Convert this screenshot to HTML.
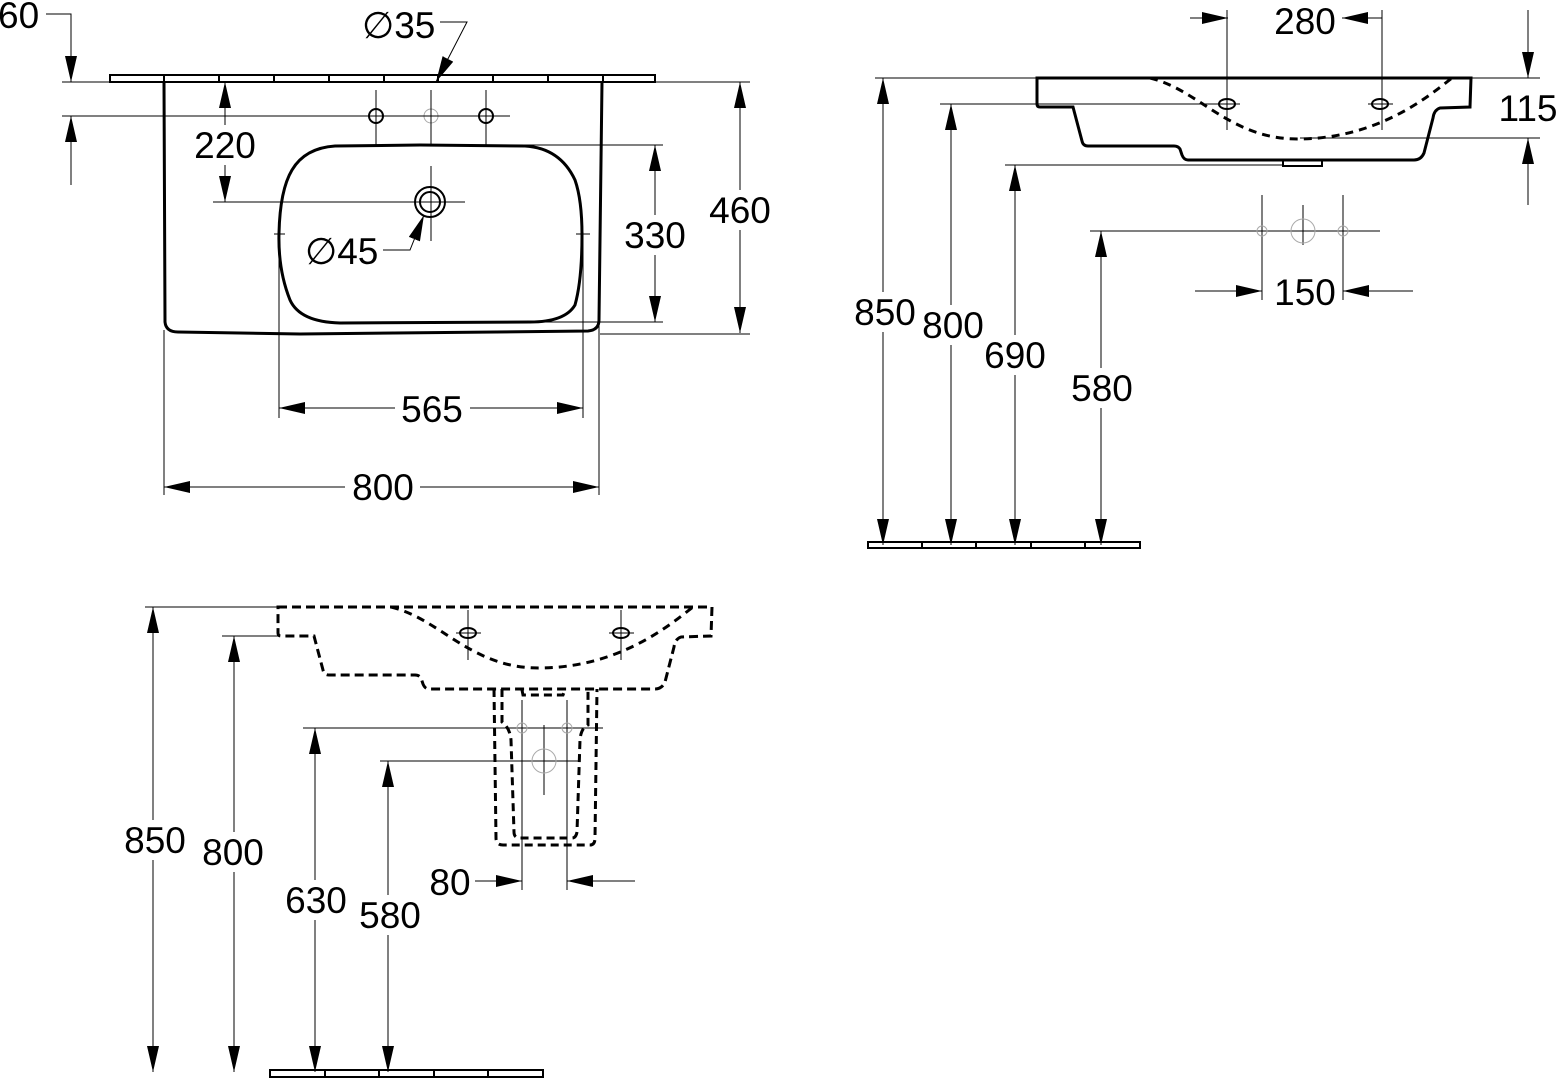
<!DOCTYPE html>
<html><head><meta charset="utf-8"><style>
html,body{margin:0;padding:0;background:#fff;width:1558px;height:1080px;overflow:hidden}
svg text{font-family:"Liberation Sans",sans-serif;font-size:37px;fill:#000}
</style></head><body>
<svg width="1558" height="1080" viewBox="0 0 1558 1080" xmlns="http://www.w3.org/2000/svg">
<defs>
<marker id="ar" viewBox="0 0 26 12" refX="26" refY="6" markerWidth="26" markerHeight="12" markerUnits="userSpaceOnUse" orient="auto-start-reverse"><path d="M26,6 L0,0 L0,12Z"/></marker>
<g id="basin">
<path d="M1037,78 L1471,78 L1470,107 L1440,108 Q1434,110 1433,118 L1424,153 Q1421,160 1414,160 L1188,160 Q1184,160 1182,155 L1180,149 Q1178,146 1174,146 L1088,146 Q1083,146 1082,141 L1073,107 L1040,107 Q1037,107 1037,104Z" fill="none"/>
<path d="M1150,78 C1200,90 1230,140 1300,139 C1380,138 1430,95 1452,78" fill="none" stroke-dasharray="8,6"/>
</g>
</defs>

<!-- ============ TOP LEFT VIEW ============ -->
<g stroke="#000" stroke-width="1" fill="none">
<rect x="110" y="75" width="545" height="7" stroke-width="2"/>
<g stroke-width="2"><path d="M164,76v5M219,76v5M274,76v5M329,76v5M384,76v5M438,76v5M493,76v5M548,76v5M603,76v5"/></g>
<path d="M164,82 L165,322 Q166,332 178,332 L300,334 L588,331 Q599,330 599,320 L602,82" stroke-width="3"/>
<path d="M335,146 L420,145 L525,146 Q560,148 575,180 Q582,200 582,235 Q582,280 575,305 Q565,322 530,322 L340,323 Q300,322 290,300 Q278,270 279,233 Q280,190 292,170 Q305,148 335,146Z" stroke-width="3"/>
<circle cx="376" cy="116" r="7" stroke-width="2"/><circle cx="486" cy="116" r="7" stroke-width="2"/>
<circle cx="431" cy="116" r="7" stroke="#aaa"/>
<path d="M376,90v55M486,90v55M431,90v55M431,166v75"/>
<circle cx="430" cy="202" r="15" stroke-width="2"/><circle cx="430" cy="202" r="10" stroke-width="2"/>
<path d="M62,82H750M62,116H510M213,202H465M430,145H663M520,322H663M600,334H750M274,234H285M576,234H590"/>
<path d="M164,330V495M599,320V495M279,232V418M583,232V418"/>
<path d="M46,14H71V82M71,116V185"/>
<path d="M71,50V82" marker-end="url(#ar)"/>
<path d="M71,150V116" marker-end="url(#ar)"/>
<path d="M225,82V202" marker-start="url(#ar)" marker-end="url(#ar)"/>
<path d="M655,145V322" marker-start="url(#ar)" marker-end="url(#ar)"/>
<path d="M740,82V333" marker-start="url(#ar)" marker-end="url(#ar)"/>
<path d="M279,408H583" marker-start="url(#ar)" marker-end="url(#ar)"/>
<path d="M164,487H599" marker-start="url(#ar)" marker-end="url(#ar)"/>
<path d="M440,22H467L436,82" marker-end="url(#ar)"/>
<path d="M383,250H410L424,215" marker-end="url(#ar)"/>
</g>
<g>
<rect x="190" y="125" width="70" height="40" fill="#fff"/><text x="225" y="158" text-anchor="middle">220</text>
<rect x="620" y="215" width="70" height="40" fill="#fff"/><text x="655" y="248" text-anchor="middle">330</text>
<rect x="705" y="190" width="70" height="40" fill="#fff"/><text x="740" y="223" text-anchor="middle">460</text>
<rect x="395" y="390" width="75" height="38" fill="#fff"/><text x="432" y="422" text-anchor="middle">565</text>
<rect x="345" y="468" width="75" height="38" fill="#fff"/><text x="383" y="500" text-anchor="middle">800</text>
<text x="-2" y="28">60</text>
<text x="362" y="38">&#8709;35</text>
<text x="305" y="264">&#8709;45</text>
</g>

<!-- ============ TOP RIGHT VIEW ============ -->
<g stroke="#000" stroke-width="1" fill="none">
<use href="#basin" stroke-width="3"/>
<ellipse cx="1227" cy="104" rx="8" ry="5" stroke-width="2"/><ellipse cx="1380" cy="104" rx="8" ry="5" stroke-width="2"/>
<path d="M1215,104h25M1368,104h25M1227,10v120M1382,10v120"/>
<path d="M1283,160v6h39v-6" stroke-width="2"/>
<rect x="868" y="542" width="272" height="6" stroke-width="2"/>
<g stroke-width="2"><path d="M922,543v4M976,543v4M1031,543v4M1085,543v4"/></g>
<path d="M875,78H1037M940,104H1227M1005,165H1283M1090,231H1380M1470,78H1540M1300,138H1540"/>
<path d="M1262,195V300M1343,195V300M1303,205V245M1250,231H1275M1330,231H1355"/>
<circle cx="1303" cy="231" r="12" stroke="#aaa"/><circle cx="1262" cy="231" r="5" stroke="#aaa"/><circle cx="1343" cy="231" r="5" stroke="#aaa"/>
<path d="M883,78V545" marker-start="url(#ar)" marker-end="url(#ar)"/>
<path d="M951,104V545" marker-start="url(#ar)" marker-end="url(#ar)"/>
<path d="M1015,165V545" marker-start="url(#ar)" marker-end="url(#ar)"/>
<path d="M1101,231V545" marker-start="url(#ar)" marker-end="url(#ar)"/>
<path d="M1190,18H1228" marker-end="url(#ar)"/>
<path d="M1382,18H1342" marker-end="url(#ar)"/>
<path d="M1528,10V78" marker-end="url(#ar)"/>
<path d="M1528,205V138" marker-end="url(#ar)"/>
<path d="M1195,291H1262" marker-end="url(#ar)"/>
<path d="M1413,291H1343" marker-end="url(#ar)"/>
</g>
<g>
<text x="1305" y="34" text-anchor="middle">280</text>
<rect x="1495" y="88" width="63" height="40" fill="#fff"/><text x="1528" y="121" text-anchor="middle">115</text>
<text x="1305" y="305" text-anchor="middle">150</text>
<rect x="850" y="292" width="68" height="40" fill="#fff"/><text x="885" y="325" text-anchor="middle">850</text>
<rect x="918" y="305" width="68" height="40" fill="#fff"/><text x="953" y="338" text-anchor="middle">800</text>
<rect x="981" y="335" width="68" height="40" fill="#fff"/><text x="1015" y="368" text-anchor="middle">690</text>
<rect x="1067" y="368" width="68" height="40" fill="#fff"/><text x="1102" y="401" text-anchor="middle">580</text>
</g>

<!-- ============ BOTTOM VIEW ============ -->
<g stroke="#000" stroke-width="1" fill="none">
<g transform="translate(-759,529)"><use href="#basin" stroke-width="3" stroke-dasharray="9,5"/></g>
<g stroke-width="3" stroke-dasharray="8,5">
<ellipse cx="468" cy="633" rx="8" ry="5" stroke-dasharray="none" stroke-width="2"/><ellipse cx="621" cy="633" rx="8" ry="5" stroke-dasharray="none" stroke-width="2"/>
<path d="M494,689 L496,838 Q496,845 503,845 L590,845 Q595,845 595,838 L597,689"/>
<path d="M502,689 L502,722 Q510,728 511,740 L514,832 Q514,838 520,838 L572,838 Q576,838 577,832 L580,740 Q581,728 588,725 L588,689"/>
<path d="M522,690 L523,695 L563,695 L565,690"/>
</g>
<path d="M456,633h25M609,633h25M468,610v50M621,610v50"/>
<path d="M145,607H277M222,636H280M303,728H603M380,761H578"/>
<path d="M522,700V890M567,700V890M544,725V795"/>
<circle cx="522" cy="728" r="5" stroke="#aaa"/><circle cx="567" cy="728" r="5" stroke="#aaa"/><circle cx="544" cy="761" r="12" stroke="#aaa"/>
<rect x="270" y="1070" width="273" height="7" stroke-width="2"/>
<g stroke-width="2"><path d="M325,1071v5M379,1071v5M434,1071v5M488,1071v5"/></g>
<path d="M153,607V1072" marker-start="url(#ar)" marker-end="url(#ar)"/>
<path d="M234,636V1072" marker-start="url(#ar)" marker-end="url(#ar)"/>
<path d="M315,728V1072" marker-start="url(#ar)" marker-end="url(#ar)"/>
<path d="M388,761V1072" marker-start="url(#ar)" marker-end="url(#ar)"/>
<path d="M475,881H522" marker-end="url(#ar)"/>
<path d="M635,881H567" marker-end="url(#ar)"/>
</g>
<g>
<rect x="120" y="820" width="68" height="40" fill="#fff"/><text x="155" y="853" text-anchor="middle">850</text>
<rect x="199" y="832" width="68" height="40" fill="#fff"/><text x="233" y="865" text-anchor="middle">800</text>
<rect x="282" y="880" width="68" height="40" fill="#fff"/><text x="316" y="913" text-anchor="middle">630</text>
<rect x="356" y="895" width="68" height="40" fill="#fff"/><text x="390" y="928" text-anchor="middle">580</text>
<text x="450" y="895" text-anchor="middle">80</text>
</g>
</svg>
</body></html>
